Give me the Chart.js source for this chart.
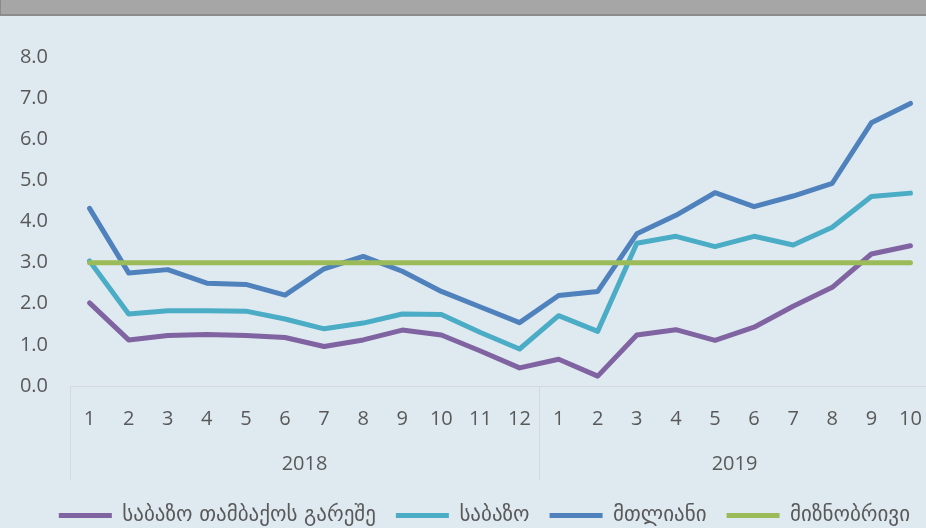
<!DOCTYPE html>
<html>
<head>
<meta charset="utf-8">
<script src="https://cdn.jsdelivr.net/npm/chart.js@4.4.0/dist/chart.umd.min.js"></script>
<style>
  html, body { margin: 0; padding: 0; background: #dfe9f0; overflow: hidden; }
  #topbar { height: 14px; background: #a6a6a6; border-left: 1px solid #8a8a8a; border-bottom: 2px solid #8c8c8c; }
  #wrap { position: relative; width: 930px; height: 520px; }
</style>
</head>
<body>
<div id="topbar"></div>
<div id="wrap"><canvas id="chart"></canvas></div>
<script>
const months = ['1', '2', '3', '4', '5', '6', '7', '8', '9', '10', '11', '12',
                '1', '2', '3', '4', '5', '6', '7', '8', '9', '10'];
const years = ['2018', '2019'];
const monthsPerYear = [12, 10];

const coreExTobacco = [2.02, 1.12, 1.23, 1.25, 1.23, 1.18, 0.96, 1.12, 1.36, 1.24, 0.85, 0.44,
                       0.65, 0.24, 1.24, 1.37, 1.11, 1.43, 1.94, 2.40, 3.21, 3.41];
const core = [3.04, 1.75, 1.83, 1.83, 1.82, 1.63, 1.39, 1.53, 1.75, 1.74, 1.30, 0.90,
              1.71, 1.33, 3.47, 3.64, 3.39, 3.64, 3.43, 3.86, 4.61, 4.69];
const headline = [4.32, 2.75, 2.83, 2.50, 2.47, 2.21, 2.85, 3.15, 2.79, 2.30, 1.92, 1.54,
                  2.20, 2.30, 3.70, 4.15, 4.70, 4.36, 4.62, 4.93, 6.40, 6.87];
const target = [3.0, 3.0, 3.0, 3.0, 3.0, 3.0, 3.0, 3.0, 3.0, 3.0, 3.0, 3.0,
                3.0, 3.0, 3.0, 3.0, 3.0, 3.0, 3.0, 3.0, 3.0, 3.0];

const seriesNames = ['საბაზო თამბაქოს გარეშე', 'საბაზო', 'მთლიანი', 'მიზნობრივი'];
const yTicks = [0, 1, 2, 3, 4, 5, 6, 7, 8];

const textColor = '#595959';
const tickFont = { family: '"Open Sans", "DejaVu Sans", sans-serif', size: 20 };
const hidden = 'rgba(0,0,0,0)';

// year labels + group separators under the month axis
const yearGroups = {
  id: 'yearGroups',
  afterDraw(chart) {
    const x = chart.scales.x;
    const ctx = chart.ctx;
    ctx.save();
    ctx.strokeStyle = '#d6d9dc';
    ctx.lineWidth = 1;
    ctx.fillStyle = textColor;
    ctx.font = '20px "Open Sans", sans-serif';
    ctx.textAlign = 'center';
    ctx.textBaseline = 'middle';
    let start = 0;
    years.forEach(function(yr, i) {
      const end = start + monthsPerYear[i];
      const left = x.getPixelForValue(start - 0.5);
      const right = x.getPixelForValue(end - 0.5);
      const lx = Math.round(left) + 0.5;
      ctx.beginPath();
      ctx.moveTo(lx, x.top);
      ctx.lineTo(lx, x.top + 94);
      ctx.stroke();
      ctx.fillText(yr, (left + right) / 2, x.top + 78);
      start = end;
    });
    ctx.restore();
  }
};

const datasets = [
  { label: seriesNames[0], data: coreExTobacco, borderColor: '#8064a2', order: 4 },
  { label: seriesNames[1], data: core, borderColor: '#4bacc6', order: 3 },
  { label: seriesNames[2], data: headline, borderColor: '#4f81bd', order: 2 },
  { label: seriesNames[3], data: target, borderColor: '#9bbb59', order: 1 }
].map(function(d) {
  return Object.assign({
    backgroundColor: d.borderColor,
    borderWidth: 5,
    pointRadius: 0,
    pointHoverRadius: 0,
    borderCapStyle: 'round',
    borderJoinStyle: 'round',
    tension: 0,
    pointStyle: 'line'
  }, d);
});

new Chart(document.getElementById('chart'), {
  type: 'line',
  data: { labels: months, datasets: datasets },
  options: {
    responsive: true,
    maintainAspectRatio: false,
    animation: false,
    layout: { padding: { top: 41, right: 0, left: 0, bottom: 0 } },
    plugins: {
      tooltip: { enabled: false },
      legend: {
        position: 'bottom',
        align: 'end',
        labels: {
          usePointStyle: true,
          pointStyleWidth: 53,
          padding: 20,
          color: textColor,
          font: { family: '"DejaVu Sans", sans-serif', size: 21 },
          sort: function(a, b) { return a.datasetIndex - b.datasetIndex; }
        }
      }
    },
    scales: {
      x: {
        offset: true,
        afterFit: function(scale) { scale.height = 99; },
        grid: { display: true, drawOnChartArea: false, drawTicks: true, tickLength: 19, color: hidden },
        border: { display: true, color: '#d6d9dc', width: 1 },
        ticks: { color: textColor, font: tickFont, padding: 2, maxRotation: 0, autoSkip: false }
      },
      y: {
        min: 0,
        max: 8,
        afterFit: function(scale) { scale.width = 70; },
        afterBuildTicks: function(scale) { scale.ticks = yTicks.map(function(v) { return { value: v }; }); },
        grid: { display: true, drawOnChartArea: false, drawTicks: true, tickLength: 20, color: hidden },
        border: { display: false },
        ticks: {
          color: textColor,
          font: tickFont,
          padding: 2,
          callback: function(v) { return Number(v).toFixed(1); }
        }
      }
    }
  },
  plugins: [yearGroups]
});
</script>
</body>
</html>
